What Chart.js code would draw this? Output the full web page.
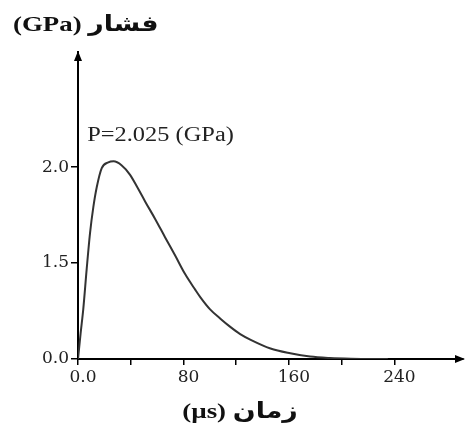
<!DOCTYPE html>
<html>
<head>
<meta charset="utf-8">
<script src="https://cdn.jsdelivr.net/npm/chart.js@4.4.1/dist/chart.umd.min.js"></script>
<style>
  html, body { margin: 0; padding: 0; background: #fff; }
  #wrap { width: 467px; height: 430px; }
</style>
</head>
<body>
<div id="wrap"><canvas id="c" width="467" height="430"></canvas></div>
<script>
// ---- data ----
const times = [0, 2, 4, 6.6, 9.1, 11.6, 14.2, 18, 23, 27, 33, 39.5, 45, 51, 58.5, 66, 74, 81, 89, 93, 100, 108, 115, 123, 131, 146, 161, 176, 191, 207, 235];
const pressures = [0, 0.27, 0.52, 0.94, 1.31, 1.58, 1.79, 1.99, 2.05, 2.06, 2.02, 1.92, 1.79, 1.64, 1.46, 1.27, 1.07, 0.89, 0.72, 0.64, 0.52, 0.42, 0.34, 0.26, 0.20, 0.11, 0.06, 0.025, 0.01, 0.003, 0];
const xTickValues = [0, 40, 80, 120, 160, 200, 240];
const xTickLabels = ['0.0', '', '80', '', '160', '', '240'];
const yTickValues = [0, 1, 2];
const yTickLabels = ['0.0', '1.5', '2.0'];
const yTitle = 'فشار (GPa)';
const xTitle = 'زمان (µs)';
const peakLabel = 'P=2.025 (GPa)';
const peakLabelAt = { t: 7, p: 2.27 };

const points = times.map((t, i) => ({ x: t, y: pressures[i] }));

function wideText(ctx, text, x, y, sx) {
  ctx.save();
  ctx.translate(x, y);
  ctx.scale(sx, 1);
  ctx.fillText(text, 0, 0);
  ctx.restore();
}

const decor = {
  id: 'decor',
  afterDraw(chart) {
    const { ctx, chartArea: a, scales } = chart;
    ctx.save();
    ctx.fillStyle = '#000';
    // y arrow
    const ax = a.left;
    ctx.beginPath();
    ctx.moveTo(ax, a.top - 1);
    ctx.lineTo(ax - 4, a.top + 9);
    ctx.lineTo(ax + 4, a.top + 9);
    ctx.closePath();
    ctx.fill();
    // x arrow
    const ay = a.bottom;
    ctx.beginPath();
    ctx.moveTo(a.right + 2, ay);
    ctx.lineTo(a.right - 8, ay - 4);
    ctx.lineTo(a.right - 8, ay + 4);
    ctx.closePath();
    ctx.fill();
    // titles
    ctx.fillStyle = '#111';
    ctx.font = "bold 22px 'Liberation Serif', 'DejaVu Sans', serif";
    ctx.direction = 'rtl';
    ctx.textBaseline = 'middle';
    ctx.textAlign = 'left';
    wideText(ctx, yTitle, 13, 25, 1.22);
    ctx.textAlign = 'center';
    wideText(ctx, xTitle, 240, 412, 1.22);
    ctx.direction = 'ltr';
    // peak annotation
    ctx.font = "20px 'Liberation Serif', serif";
    ctx.textAlign = 'left';
    ctx.textBaseline = 'alphabetic';
    ctx.fillStyle = '#222';
    wideText(ctx, peakLabel, scales.x.getPixelForValue(peakLabelAt.t), scales.y.getPixelForValue(peakLabelAt.p), 1.22);
    ctx.restore();
  }
};

new Chart(document.getElementById('c'), {
  type: 'line',
  data: {
    datasets: [{
      data: points,
      borderColor: '#333',
      borderWidth: 2,
      pointRadius: 0,
      fill: false,
      cubicInterpolationMode: 'monotone'
    }]
  },
  options: {
    responsive: false,
    devicePixelRatio: 1,
    animation: false,
    layout: { padding: { top: 52, right: 4, left: 0, bottom: 0 } },
    plugins: { legend: { display: false }, tooltip: { enabled: false } },
    scales: {
      x: {
        type: 'linear',
        min: 0,
        max: 292,
        afterFit(s) { s.height = 71; },
        afterBuildTicks(s) { s.ticks = xTickValues.map(v => ({ value: v })); },
        grid: { display: true, drawOnChartArea: false, drawTicks: true, tickLength: 6, color: '#000', lineWidth: 1.5 },
        border: { display: true, color: '#000', width: 2 },
        ticks: {
          color: '#222',
          font: { family: "'DejaVu Serif', serif", size: 17 },
          padding: 2,
          labelOffset: 5,
          maxRotation: 0,
          autoSkip: false,
          callback: (v, i) => xTickLabels[i]
        }
      },
      y: {
        type: 'linear',
        min: 0,
        max: 3.2,
        afterFit(s) { s.width = 78; },
        afterBuildTicks(s) { s.ticks = yTickValues.map(v => ({ value: v })); },
        grid: { display: true, drawOnChartArea: false, drawTicks: true, tickLength: 7, color: '#000', lineWidth: 1.5 },
        border: { display: true, color: '#000', width: 2 },
        ticks: {
          color: '#222',
          font: { family: "'DejaVu Serif', serif", size: 17 },
          padding: 2,
          autoSkip: false,
          callback: (v, i) => yTickLabels[i]
        }
      }
    }
  },
  plugins: [decor]
});
</script>
</body>
</html>
